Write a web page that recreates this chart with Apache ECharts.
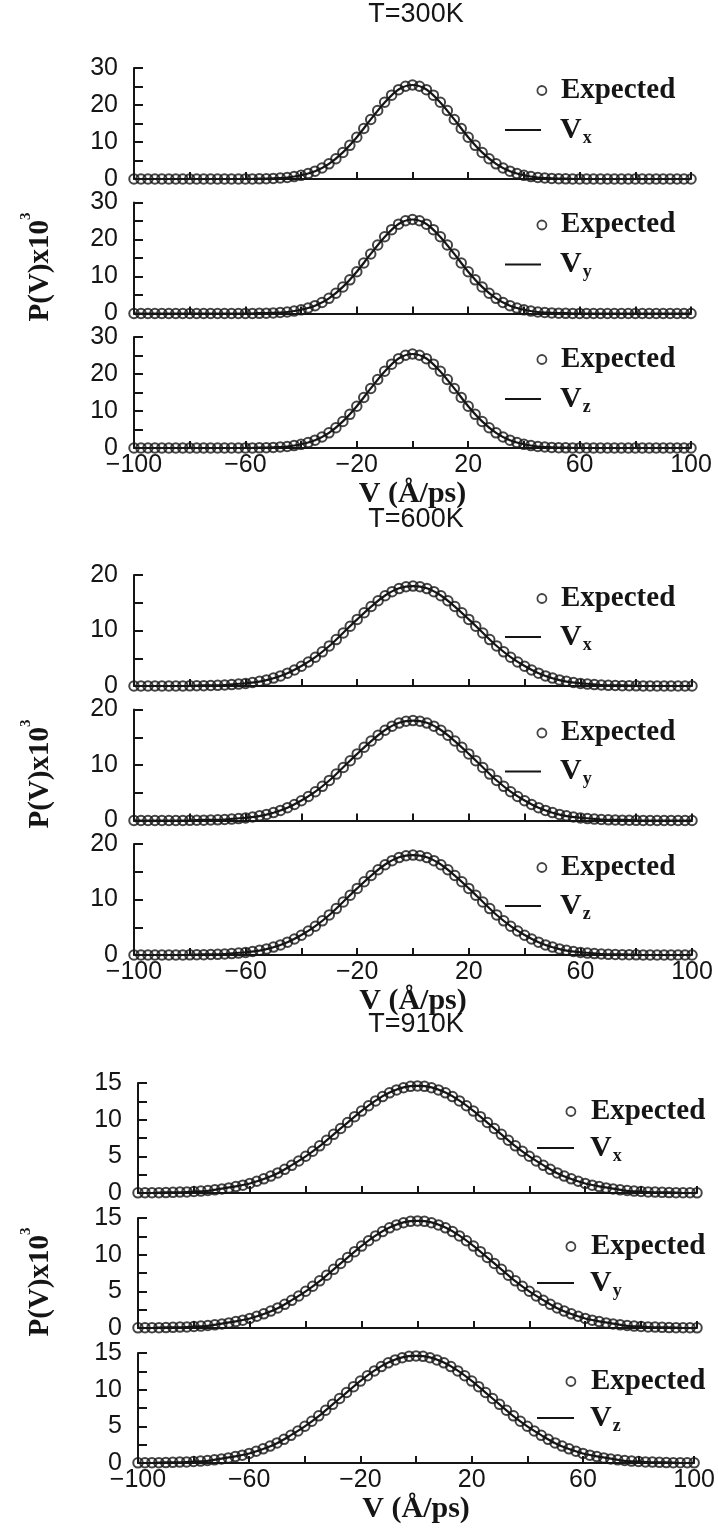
<!DOCTYPE html>
<html><head><meta charset="utf-8">
<script src="https://cdn.jsdelivr.net/npm/echarts@6/dist/echarts.min.js"></script>
<style>html,body{margin:0;padding:0;background:#fff}#c{width:718px;height:1528px}</style>
</head><body><div id="c"></div>
<script>
// ---------- DATA ----------
const titles = ['T=300K', 'T=600K', 'T=910K'];
const components = ['x', 'y', 'z'];
const xAxisTitle = 'V (Å/ps)';
const yAxisTitleMain = 'P(V)x10';
const yAxisTitleSup = '3';
const legendExpected = 'Expected';

const velocity = [-100,-97.5,-95,-92.5,-90,-87.5,-85,-82.5,-80,-77.5,-75,-72.5,-70,-67.5,-65,-62.5,-60,-57.5,-55,-52.5,-50,-47.5,-45,-42.5,-40,-37.5,-35,-32.5,-30,-27.5,-25,-22.5,-20,-17.5,-15,-12.5,-10,-7.5,-5,-2.5,0,2.5,5,7.5,10,12.5,15,17.5,20,22.5,25,27.5,30,32.5,35,37.5,40,42.5,45,47.5,50,52.5,55,57.5,60,62.5,65,67.5,70,72.5,75,77.5,80,82.5,85,87.5,90,92.5,95,97.5,100];
const velocityCoarse = [-100,-95,-90,-85,-80,-75,-70,-65,-60,-55,-50,-45,-40,-35,-30,-25,-20,-15,-10,-5,0,5,10,15,20,25,30,35,40,45,50,55,60,65,70,75,80,85,90,95,100];

const expected300 = [0,0,0,0,0,0,0,0,0,0,0,0,0,0,0,
 0.01,0.02,0.03,0.05,0.09,0.16,0.26,0.42,0.65,0.99,
 1.47,2.12,2.98,4.09,5.48,7.15,9.10,11.28,13.65,16.09,
 18.50,20.74,22.66,24.15,25.08,
 25.40,
 25.08,24.15,22.66,20.74,18.50,
 16.09,13.65,11.28,9.10,7.15,5.48,4.09,2.98,2.12,1.47,
 0.99,0.65,0.42,0.26,0.16,0.09,0.05,0.03,0.02,0.01,
 0,0,0,0,0,0,0,0,0,0,0,0,0,0,0];
const expected600 = [0,0,0,0,0, 0.01,0.01,0.02,0.03,0.04, 0.06,0.09,0.12,0.18,0.25,
 0.34,0.47,0.63,0.84,1.10, 1.42,1.82,2.31,2.88,3.55, 4.32,5.19,6.16,7.22,8.36,
 9.55,10.77,12.00,13.19,14.33, 15.36,16.26,17.00,17.55,17.89,
 18.00,
 17.89,17.55,17.00,16.26,15.36, 14.33,13.19,12.00,10.77,9.55,
 8.36,7.22,6.16,5.19,4.32, 3.55,2.88,2.31,1.82,1.42, 1.10,0.84,0.63,0.47,0.34,
 0.25,0.18,0.12,0.09,0.06, 0.04,0.03,0.02,0.01,0.01, 0,0,0,0,0];
const expected910 = [0.02,0.03,0.03,0.05,0.06, 0.09,0.12,0.15,0.20,0.26, 0.34,0.43,0.55,0.69,0.87,
 1.07,1.31,1.60,1.93,2.31, 2.74,3.23,3.77,4.36,5.01, 5.70,6.43,7.20,8.00,8.80,
 9.61,10.41,11.17,11.90,12.56, 13.15,13.66,14.06,14.36,14.54,
 14.60,
 14.54,14.36,14.06,13.66,13.15, 12.56,11.90,11.17,10.41,9.61,
 8.80,8.00,7.20,6.43,5.70, 5.01,4.36,3.77,3.23,2.74, 2.31,1.93,1.60,1.31,1.07,
 0.87,0.69,0.55,0.43,0.34, 0.26,0.20,0.15,0.12,0.09, 0.06,0.05,0.03,0.03,0.02];

const simulated300 = [0,0,0,0,0,0,0,0,0,0.1,0.2,0.4,1.0,2.1,4.1,7.2,11.3,16.1,20.7,24.2,25.4,24.2,20.7,16.1,11.3,7.2,4.1,2.1,1.0,0.4,0.2,0.1,0,0,0,0,0,0,0,0,0];
const simulated600 = [0,0,0,0,0,0.1,0.1,0.3,0.5,0.8,1.4,2.3,3.6,5.2,7.2,9.6,12.0,14.3,16.3,17.6,18.0,17.6,16.3,14.3,12.0,9.6,7.2,5.2,3.6,2.3,1.4,0.8,0.5,0.3,0.1,0.1,0,0,0,0,0];
const simulated910 = [0,0,0.1,0.1,0.2,0.3,0.6,0.9,1.3,1.9,2.7,3.8,5.0,6.4,8.0,9.6,11.2,12.6,13.7,14.4,14.6,14.4,13.7,12.6,11.2,9.6,8.0,6.4,5.0,3.8,2.7,1.9,1.3,0.9,0.6,0.3,0.2,0.1,0.1,0,0];

const yMaxes = [30, 20, 15];
const yTickSteps = [5, 5, 2.5];
const yLabelSteps = [10, 10, 5];
const xMin = -100, xMax = 100, xTickStep = 20, xLabelStep = 40;

// ---------- LAYOUT / STYLE ----------
const INK = '#151515';
const SANS = '"Liberation Sans", Arial, sans-serif';
const SERIF = '"Liberation Serif", "Times New Roman", serif';
const layout = [
  {tops:[68,202.5,337], h:111, left:134, right:27, titleY:15, circX:541, lineX:505, lineW:36, textX:560, expDy:23, lineDy:63, nameGap:27},
  {tops:[575,709.5,844], h:111, left:134, right:26, titleY:520, circX:541, lineX:505, lineW:36, textX:560, expDy:24, lineDy:63, nameGap:25},
  {tops:[1083,1218,1353], h:110, left:138, right:21, titleY:1025, circX:570, lineX:537, lineW:37, textX:590, expDy:29, lineDy:66, nameGap:27}
];
const expectedData = [expected300, expected600, expected910];
const simulatedData = [simulated300, simulated600, simulated910];

const grids = [], xAxes = [], yAxes = [], series = [], legends = [], graphics = [], titleOpts = [];
const minus = s => String(s).replace('-', '\u2212');

for (let g = 0; g < 3; g++) {
  const L = layout[g];
  titleOpts.push({text: titles[g], left: 416, top: L.titleY - 15, textAlign: 'center', padding: 0,
    textStyle: {fontFamily: SANS, fontSize: 27, fontWeight: 'normal', color: INK, lineHeight: 30}});
  for (let p = 0; p < 3; p++) {
    const idx = g * 3 + p;
    const top = L.tops[p];
    const bottomPanel = p === 2;
    grids.push({left: L.left, right: L.right, top: top, height: L.h});
    xAxes.push({
      gridIndex: idx, type: 'value', min: xMin, max: xMax, interval: xTickStep,
      axisLine: {show: true, onZero: false, lineStyle: {color: INK, width: 2}},
      axisTick: {show: true, inside: true, length: 7, lineStyle: {color: INK, width: 2}},
      axisLabel: {show: bottomPanel, margin: 5, fontFamily: SANS, fontSize: 25, color: INK,
        showMinLabel: true, showMaxLabel: true, hideOverlap: false,
        formatter: v => ((v - xMin) % xLabelStep === 0 ? minus(v) : '')},
      splitLine: {show: false},
      name: bottomPanel ? xAxisTitle : '', nameLocation: 'middle', nameGap: L.nameGap,
      nameTextStyle: {fontFamily: SERIF, fontWeight: 'bold', fontSize: 30, color: INK, lineHeight: 30}
    });
    yAxes.push({
      gridIndex: idx, type: 'value', min: 0, max: yMaxes[g], interval: yTickSteps[g],
      axisLine: {show: true, onZero: false, lineStyle: {color: INK, width: 2}},
      axisTick: {show: true, inside: true, length: 9, lineStyle: {color: INK, width: 2}},
      axisLabel: {margin: 16, fontFamily: SANS, fontSize: 25, color: INK, showMaxLabel: true,
        formatter: v => (Math.abs(v % yLabelSteps[g]) < 1e-9 ? String(v) : '')},
      splitLine: {show: false}
    });
    const compName = 'V' + components[p];
    series.push({
      type: 'line', name: compName, xAxisIndex: idx, yAxisIndex: idx,
      data: velocityCoarse.map((x, k) => [x, simulatedData[g][k]]),
      symbol: 'none', showSymbol: false, smooth: 0.3,
      lineStyle: {color: INK, width: 2.2}, itemStyle: {color: INK}, z: 2, silent: true
    });
    series.push({
      type: 'scatter', name: legendExpected, xAxisIndex: idx, yAxisIndex: idx,
      data: velocity.map((x, k) => [x, expectedData[g][k]]),
      symbol: 'circle', symbolSize: 9.5,
      itemStyle: {color: 'rgba(0,0,0,0)', borderColor: INK, borderWidth: 2}, z: 3, silent: true
    });
    // legend: Expected
    legends.push({
      data: [{name: legendExpected, icon: 'circle', itemStyle: {color: 'rgba(0,0,0,0)', borderColor: INK, borderWidth: 1.8}}],
      left: L.circX - 4.5, top: top + L.expDy - 15, padding: 0, itemWidth: 9, itemHeight: 9,
      selectedMode: false, orient: 'vertical',
      formatter: n => '{e|' + n + '}',
      textStyle: {color: INK, rich: {e: {fontFamily: SERIF, fontWeight: 'bold', fontSize: 29, lineHeight: 30, color: INK,
        padding: [0, 0, 0, L.textX - (L.circX + 4.5) - 5]}}}
    });
    // legend: V component line
    legends.push({
      data: [{name: compName, icon: 'rect', itemStyle: {color: INK, borderWidth: 0}}],
      left: L.lineX, top: top + L.lineDy - 16, padding: 0, itemWidth: L.lineW, itemHeight: 2,
      selectedMode: false, orient: 'vertical',
      formatter: n => '{v|V}{s|' + n.slice(1) + '}',
      textStyle: {color: INK, rich: {
        v: {fontFamily: SERIF, fontWeight: 'bold', fontSize: 30, lineHeight: 30, verticalAlign: 'top', color: INK,
            padding: [0, 0, 0, L.textX - (L.lineX + L.lineW) - 5]},
        s: {fontFamily: SERIF, fontWeight: 'bold', fontSize: 18, lineHeight: 18, verticalAlign: 'top', color: INK,
            padding: [14, 0, 0, 1]}
      }}
    });
  }
  // y axis title, centred on the middle panel
  const midCenter = L.tops[1] + L.h / 2 + 9;
  graphics.push({
    type: 'text', x: 37, y: midCenter, rotation: Math.PI / 2,
    style: {text: '{a|' + yAxisTitleMain + '}{b|' + yAxisTitleSup + '}', align: 'center', verticalAlign: 'middle', fill: INK,
      rich: {a: {fontFamily: SERIF, fontWeight: 'bold', fontSize: 29, lineHeight: 36, verticalAlign: 'bottom', fill: INK},
             b: {fontFamily: SERIF, fontWeight: 'bold', fontSize: 15, lineHeight: 15, verticalAlign: 'top', fill: INK}}}
  });
}

const chart = echarts.init(document.getElementById('c'), null, {renderer: 'canvas'});
chart.setOption({
  animation: false,
  backgroundColor: '#fff',
  title: titleOpts,
  grid: grids,
  xAxis: xAxes,
  yAxis: yAxes,
  legend: legends,
  graphic: graphics,
  series: series
});
</script>
</body></html>
